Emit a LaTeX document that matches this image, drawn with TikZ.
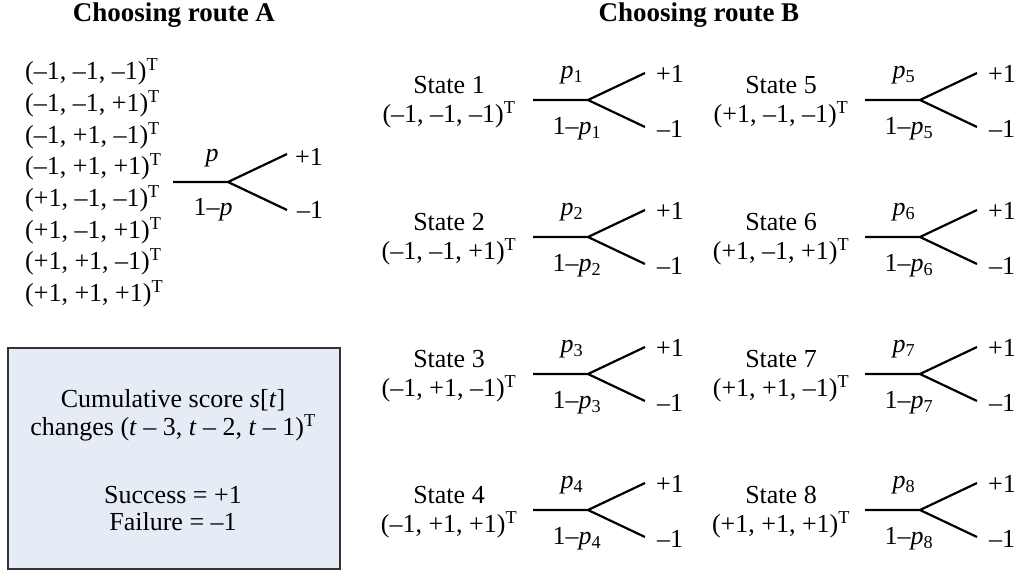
\documentclass[tikz,border=0pt]{standalone}
\usepackage{fontspec}
\setmainfont{Liberation Serif}
\definecolor{boxfill}{RGB}{230,236,246}
\definecolor{boxline}{RGB}{50,50,55}
\begin{document}
\begin{tikzpicture}[x=1pt,y=-1pt,
  txt/.style={inner sep=0pt,font=\fontsize{26}{30}\selectfont},
  ttl/.style={inner sep=0pt,font=\fontsize{27}{31}\selectfont\bfseries},
  br/.style={line width=2.2pt},
  infobox/.style={draw=boxline,fill=boxfill,line width=1.3pt}]
\useasboundingbox (0,0) rectangle (1018,571);
\node[ttl] (ta) at (174,15) {Choosing route A};
\node[ttl] (tb) at (699,15) {Choosing route B};
% list A
\foreach \v [count=\i] in {{(–1, –1, –1)},{(–1, –1, +1)},{(–1, +1, –1)},{(–1, +1, +1)},{(+1, –1, –1)},{(+1, –1, +1)},{(+1, +1, –1)},{(+1, +1, +1)}}
  \node[txt,anchor=west] (l\i) at (25,{72+(\i-1)*31.7}) {\v\textsuperscript{T}};
% branch A
\coordinate (as) at (173,182);
\coordinate (aj) at (228,182);
\coordinate (au) at (287,154);
\coordinate (ad) at (287,210);
\draw[br] (as) -- (aj) -- (au);
\draw[br] (aj) -- (ad);
\node[txt] (ap) at (212,158) {\textit{p}};
\node[txt] (aq) at (213,210) {1–\textit{p}};
\node[txt] (apl) at (309,157) {+1};
\node[txt] (ami) at (310,210) {–1};
% box
\node[infobox,minimum width=332pt,minimum height=221pt] (box) at (174,458.5) {};
\node[txt] (b1) at (173,400) {Cumulative score \textit{s}[\textit{t}]};
\node[txt] (b2) at (173,428) {changes (\textit{t} – 3, \textit{t} – 2, \textit{t} – 1)\textsuperscript{T}};
\node[txt] (b3) at (173,495) {Success = +1};
\node[txt] (b4) at (173,522) {Failure = –1};
% states
\foreach \n/\v/\cx/\cy in {1/{(–1, –1, –1)}/0/100, 2/{(–1, –1, +1)}/0/237, 3/{(–1, +1, –1)}/0/374, 4/{(–1, +1, +1)}/0/510,
  5/{(+1, –1, –1)}/332/100, 6/{(+1, –1, +1)}/332/237, 7/{(+1, +1, –1)}/332/374, 8/{(+1, +1, +1)}/332/510}{
  \begin{scope}[shift={(\cx,\cy)}]
    \node[txt] (s\n) at (449,-15) {State \n};
    \node[txt] (v\n) at (449,15) {\v\textsuperscript{T}};
    \coordinate (st\n) at (533,0);
    \coordinate (j\n) at (588,0);
    \coordinate (u\n) at (645,-27);
    \coordinate (d\n) at (645,27);
    \draw[br] (st\n) -- (j\n) -- (u\n);
    \draw[br] (j\n) -- (d\n);
    \node[txt] (p\n) at (572,-25) {\textit{p}\textsubscript{\n}};
    \node[txt] (q\n) at (577,29) {1–\textit{p}\textsubscript{\n}};
    \node[txt] (pl\n) at (670,-26) {+1};
    \node[txt] (mi\n) at (670,29) {–1};
  \end{scope}}
\end{tikzpicture}
\end{document}
